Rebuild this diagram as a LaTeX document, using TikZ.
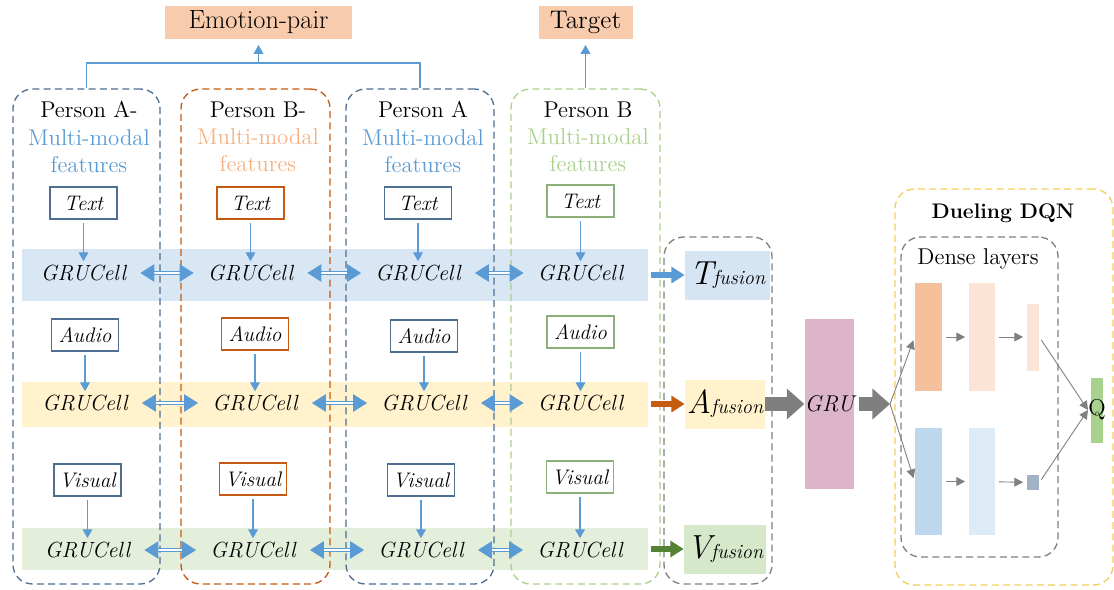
\documentclass[tikz,border=0pt]{standalone}
\usepackage{xcolor}
\usetikzlibrary{positioning, arrows.meta}

\definecolor{slate}{HTML}{4F6F92}
\definecolor{rust}{HTML}{C55A11}
\definecolor{sage}{HTML}{A9D18E}
\definecolor{sagedark}{HTML}{8DB07A}
\definecolor{skyarrow}{HTML}{5B9BD5}
\definecolor{peach}{HTML}{F4B183}
\definecolor{bandblue}{HTML}{D9E6F4}
\definecolor{bandyellow}{HTML}{FFF2CC}
\definecolor{bandgreen}{HTML}{E3EFDB}
\definecolor{fuseblue}{HTML}{D6E5F4}
\definecolor{fusegreen}{HTML}{D5E8CA}
\definecolor{salmon}{HTML}{F8CBAD}
\definecolor{mauve}{HTML}{DCB5CA}
\definecolor{leafdark}{HTML}{548235}
\definecolor{gold}{HTML}{F2CF5B}
\definecolor{midgray}{HTML}{7F7F7F}
\definecolor{orangedeep}{HTML}{F5C09C}
\definecolor{orangepale}{HTML}{FBE3D5}
\definecolor{bluedeep}{HTML}{BDD7EE}
\definecolor{bluepale}{HTML}{DDEBF7}
\definecolor{bluegray}{HTML}{A3B1C7}

\newcommand{\fusname}[1]{{\fontsize{19}{19}\selectfont\itshape #1}{\fontsize{11.5}{12}\selectfont\itshape fusion}}

\tikzset{
    colbox/.style={draw, line width=0.75pt, dash pattern=on 4pt off 2.4pt, rounded corners=11pt, inner sep=0pt, minimum height=9.9cm},
    band/.style={inner sep=0pt, minimum width=12.52cm},
    inbox/.style={draw, line width=0.7pt, fill=white, inner sep=2pt, minimum width=1.34cm, minimum height=0.64cm, font=\fontsize{12}{14}\selectfont\itshape},
    cell/.style={inner sep=2pt, font=\fontsize{12.5}{15}\selectfont\itshape},
    person/.style={align=center, font=\fontsize{13}{15.4}\selectfont},
    feed/.style={draw=skyarrow, line width=0.6pt, -{Triangle[length=5pt, width=5.5pt]}, shorten <=2pt},
    link/.style={draw=skyarrow, line width=0.6pt, double=white, double distance=1.6pt, {Triangle[length=8pt, width=10pt]}-{Triangle[length=8pt, width=10pt]}, shorten <=6pt, shorten >=6pt},
    fuse/.style={line width=3pt, -{Triangle[length=7.5pt, width=9pt]}, shorten <=1.5pt},
    fusion/.style={inner sep=0pt, minimum height=0.98cm},
    fatarrow/.style={draw=midgray, line width=7.5pt, -{Triangle[length=10pt, width=17pt]}},
    flowarrow/.style={draw=midgray, line width=0.5pt, -{Triangle[length=5pt, width=5pt]}, shorten <=2pt, shorten >=2pt},
    layerbar/.style={inner sep=0pt},
    tagbox/.style={fill=salmon, inner sep=0pt, minimum height=0.66cm},
}

\begin{document}
\begin{tikzpicture}[x=0.02cm, y=-0.02cm]
    \useasboundingbox (0,0) rectangle (1114,589);

    \node[band, fill=bandblue, minimum height=1.04cm] (bandt) at (335, 275) {};
    \node[band, fill=bandyellow, minimum height=0.9cm] (banda) at (335, 404) {};
    \node[band, fill=bandgreen, minimum height=0.84cm] (bandv) at (335, 549) {};

    \node[colbox, draw=slate, minimum width=2.94cm] (colA) at (86.5, 336.5) {};
    \node[colbox, draw=rust, minimum width=2.98cm] (colB) at (255.5, 336.5) {};
    \node[colbox, draw=slate, minimum width=2.96cm] (colC) at (420, 336.5) {};
    \node[colbox, draw=sage, minimum width=2.98cm] (colD) at (585.5, 336.5) {};
    \node[colbox, draw=midgray, minimum width=2.16cm, minimum height=6.94cm] (fusebox) at (718, 410.5) {};
    \node[colbox, draw=gold, minimum width=4.36cm, minimum height=7.92cm] (duelbox) at (1004, 387) {};
    \node[colbox, draw=midgray, minimum width=3.14cm, minimum height=6.4cm] (densebox) at (979.5, 397) {};

    \node[person] (pa) at (89, 137) {Person A-\\\textcolor{skyarrow}{Multi-modal}\\\textcolor{skyarrow}{features}};
    \node[person] (pb) at (258, 137) {Person B-\\\textcolor{peach}{Multi-modal}\\\textcolor{peach}{features}};
    \node[person] (pc) at (423, 137) {Person A\\\textcolor{skyarrow}{Multi-modal}\\\textcolor{skyarrow}{features}};
    \node[person] (pd) at (588, 137) {Person B\\\textcolor{sage}{Multi-modal}\\\textcolor{sage}{features}};

    \node[tagbox, minimum width=3.74cm, font=\fontsize{15}{17}\selectfont] (emo) at (258.5, 22) {Emotion-pair};
    \node[tagbox, minimum width=1.88cm, font=\fontsize{14.5}{17}\selectfont] (tgt) at (585.5, 22) {Target};
    \coordinate (join) at (258.5, 63);
    \draw[draw=skyarrow, line width=0.6pt] (colA.north) |- (join) -| (colC.north);
    \draw[feed, shorten <=0pt, shorten >=3.5pt] (join) -- (emo.south);
    \draw[feed, shorten <=0pt, shorten >=3.5pt] (colD.north) -- (tgt.south);

    \node[inbox, draw=slate] (txa) at (83.5, 203) {Text};
    \node[inbox, draw=rust] (txb) at (250.5, 203) {Text};
    \node[inbox, draw=slate] (txc) at (418, 203) {Text};
    \node[inbox, draw=sagedark] (txd) at (580.5, 201) {Text};
    \node[cell] (gta) at (83.5, 273) {GRUCell};
    \node[cell] (gtb) at (250.5, 273) {GRUCell};
    \node[cell] (gtc) at (418, 273) {GRUCell};
    \node[cell] (gtd) at (580.5, 273) {GRUCell};

    \node[inbox, draw=slate] (aua) at (85, 335) {Audio};
    \node[inbox, draw=rust] (aub) at (255, 334) {Audio};
    \node[inbox, draw=slate] (auc) at (424, 336) {Audio};
    \node[inbox, draw=sagedark] (aud) at (580.5, 332) {Audio};
    \node[cell] (gaa) at (85, 403) {GRUCell};
    \node[cell] (gab) at (255, 403) {GRUCell};
    \node[cell] (gac) at (424, 403) {GRUCell};
    \node[cell] (gad) at (580.5, 403) {GRUCell};

    \node[inbox, draw=slate] (vsa) at (87.5, 480) {Visual};
    \node[inbox, draw=rust] (vsb) at (253, 479) {Visual};
    \node[inbox, draw=slate] (vsc) at (421, 480) {Visual};
    \node[inbox, draw=sagedark] (vsd) at (580, 477) {Visual};
    \node[cell] (gva) at (87.5, 550) {GRUCell};
    \node[cell] (gvb) at (253, 550) {GRUCell};
    \node[cell] (gvc) at (421, 550) {GRUCell};
    \node[cell] (gvd) at (580, 550) {GRUCell};

    \draw[feed] (txa) -- (gta);
    \draw[feed] (txb) -- (gtb);
    \draw[feed] (txc) -- (gtc);
    \draw[feed] (txd) -- (gtd);
    \draw[feed] (aua) -- (gaa);
    \draw[feed] (aub) -- (gab);
    \draw[feed] (auc) -- (gac);
    \draw[feed] (aud) -- (gad);
    \draw[feed] (vsa) -- (gva);
    \draw[feed] (vsb) -- (gvb);
    \draw[feed] (vsc) -- (gvc);
    \draw[feed] (vsd) -- (gvd);

    \draw[link] (gta) -- (gtb);
    \draw[link] (gtb) -- (gtc);
    \draw[link] (gtc) -- (gtd);
    \draw[link] (gaa) -- (gab);
    \draw[link] (gab) -- (gac);
    \draw[link] (gac) -- (gad);
    \draw[link] (gva) -- (gvb);
    \draw[link] (gvb) -- (gvc);
    \draw[link] (gvc) -- (gvd);

    \node[fusion, fill=fuseblue, minimum width=1.7cm] (tf) at (727.5, 275) {\fusname{T}};
    \node[fusion, fill=bandyellow, minimum width=1.6cm] (af) at (725, 404) {\fusname{A}};
    \node[fusion, fill=fusegreen, minimum width=1.64cm] (vf) at (725, 549) {\fusname{V}};
    \draw[fuse, draw=skyarrow] (bandt.east) -- (tf.west);
    \draw[fuse, draw=rust] (banda.east) -- (af.west);
    \draw[fuse, draw=leafdark] (bandv.east) -- (vf.west);

    \node[layerbar, fill=mauve, minimum width=0.9cm, minimum height=3.4cm, font=\fontsize{13}{15}\selectfont\itshape] (grubar) at (829.5, 404) {GRU};
    \coordinate (split) at (890, 404);
    \draw[fatarrow] (af.east) -- (grubar.west);
    \draw[fatarrow, shorten <=2.5pt] (grubar.east) -- (split);

    \node[font=\fontsize{12}{15}\selectfont\bfseries] (dq) at (1003, 213) {Dueling DQN};
    \node[font=\fontsize{13}{15}\selectfont] (dl) at (978, 259) {Dense layers};

    \node[layerbar, fill=orangedeep, minimum width=0.54cm, minimum height=2.16cm] (ob1) at (928.5, 337) {};
    \node[layerbar, fill=orangepale, minimum width=0.52cm, minimum height=2.16cm] (ob2) at (982, 337) {};
    \node[layerbar, fill=orangepale, minimum width=0.24cm, minimum height=1.34cm] (ob3) at (1033, 337) {};
    \node[layerbar, fill=bluedeep, minimum width=0.54cm, minimum height=2.14cm] (bb1) at (928.5, 481.5) {};
    \node[layerbar, fill=bluepale, minimum width=0.52cm, minimum height=2.14cm] (bb2) at (982, 481.5) {};
    \node[layerbar, fill=bluegray, minimum width=0.24cm, minimum height=0.3cm] (bs3) at (1033, 482.5) {};
    \node[layerbar, fill=sage, minimum width=0.24cm, minimum height=1.3cm] (qbar) at (1097, 410.5) {};
    \node[inner sep=0pt, font=\fontsize{13}{15}\selectfont] (q) at (1097, 410) {Q};

    \draw[flowarrow, shorten <=0pt] (split) -- (ob1.west);
    \draw[flowarrow, shorten <=0pt] (split) -- (bb1.west);
    \draw[flowarrow] (ob1) -- (ob2);
    \draw[flowarrow] (ob2) -- (ob3);
    \draw[flowarrow] (bb1) -- (bb2);
    \draw[flowarrow] (bb2) -- (bs3);
    \draw[flowarrow, shorten >=0pt] (ob3.east) -- (q.west);
    \draw[flowarrow, shorten >=0pt] (bs3.east) -- (q.west);
\end{tikzpicture}
\end{document}
